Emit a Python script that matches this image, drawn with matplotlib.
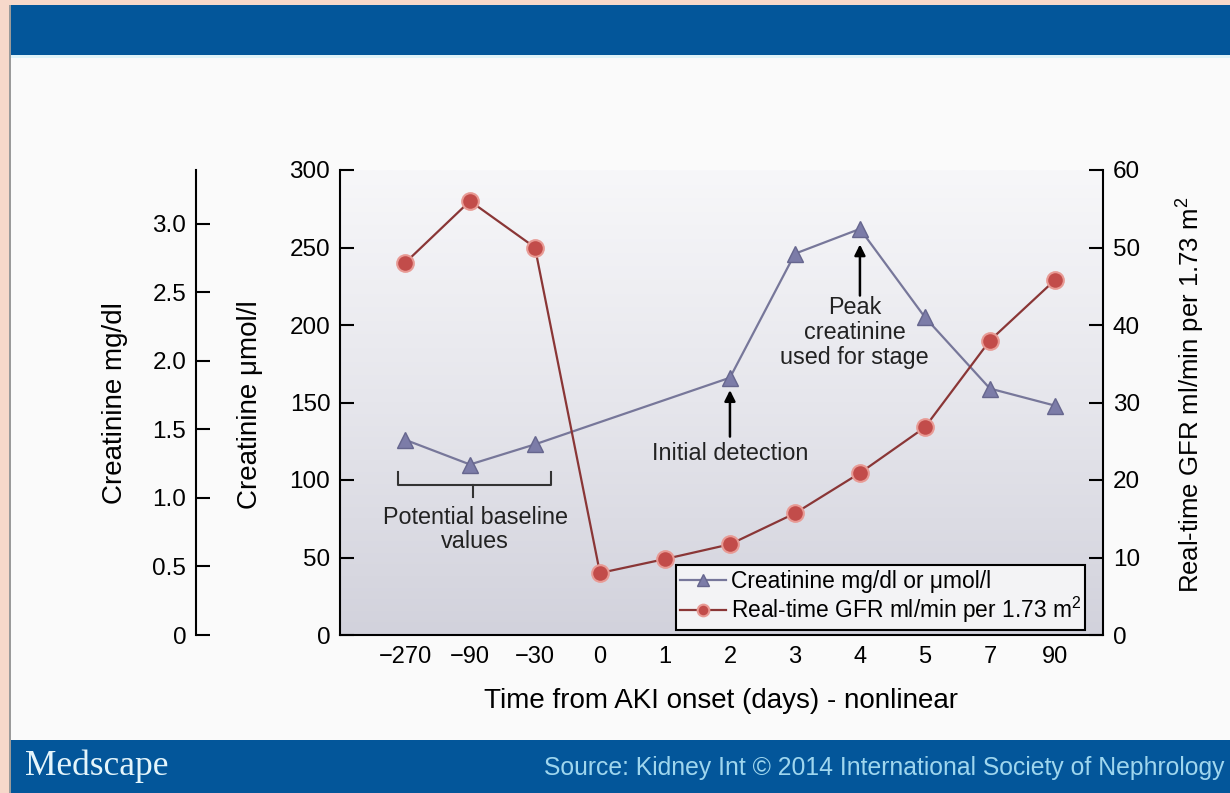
import numpy as np
import matplotlib.pyplot as plt
from matplotlib.colors import LinearSegmentedColormap
from matplotlib.patches import Rectangle

plt.rcParams["font.family"] = ["Liberation Sans", "DejaVu Sans"]
plt.rcParams["mathtext.fontset"] = "custom"
plt.rcParams["mathtext.rm"] = "Liberation Sans"

W, H = 1230, 793

# categories on the (nonlinear) time axis, days from AKI onset
DAYS = ["\u2212270", "\u221290", "\u221230", "0", "1", "2", "3", "4", "5", "7", "90"]
# creatinine (umol/l); no creatinine value at days 0 and 1
CREAT_IDX = [0, 1, 2, 5, 6, 7, 8, 9, 10]
CREAT_UMOL = [126, 110, 123, 166, 246, 262, 205, 159, 148]
# real-time GFR, ml/min per 1.73 m2
GFR = [48, 56, 50, 8, 9.8, 11.7, 15.7, 20.9, 26.8, 38, 45.8]

UMOL_PER_MGDL = 88.4
UMOL_TICKS = [0, 50, 100, 150, 200, 250, 300]
MGDL_TICKS = [0, 0.5, 1.0, 1.5, 2.0, 2.5, 3.0]
MGDL_LABELS = ["0", "0.5", "1.0", "1.5", "2.0", "2.5", "3.0"]
GFR_TICKS = [0, 10, 20, 30, 40, 50, 60]


def fx(px):
    return px / W


def fy(py):
    return 1 - py / H


fig = plt.figure(figsize=(W / 100, H / 100), dpi=100)
fig.patch.set_facecolor("#fafafa")

# page frame and Medscape banners
for x0, y0, x1, y1, c in [
    (0, 0, 9, 793, "#f6d8ca"),
    (0, 0, 1230, 5, "#f6d8ca"),
    (9, 5, 11, 793, "#9a9a9a"),
    (11, 5, 1230, 55, "#03569a"),
    (11, 55, 1230, 58, "#dff3f8"),
    (11, 740, 1230, 793, "#03569a"),
]:
    fig.add_artist(Rectangle((fx(x0), fy(y1)), fx(x1) - fx(x0), fy(y0) - fy(y1),
                             transform=fig.transFigure, color=c, lw=0, zorder=0))
fig.text(fx(25), fy(766), "Medscape", family=["Liberation Serif"], fontsize=25.5,
         color="#e4f5fb", va="center")
fig.text(fx(1225), fy(768), "Source: Kidney Int \u00a9 2014 International Society of Nephrology",
         ha="right", va="center", fontsize=17.8, color="#9fd6ee")

left, right, top, bottom = 340, 1103, 170, 635
ax = fig.add_axes([fx(left), fy(bottom), fx(right) - fx(left), fy(top) - fy(bottom)])

grad = np.linspace(0, 1, 256).reshape(-1, 1)
cmap = LinearSegmentedColormap.from_list("bg", ["#d2d2dc", "#e6e6ec", "#f7f7f9"])
ax.imshow(grad, origin="lower", extent=(0, 1, 0, 1), transform=ax.transAxes,
          aspect="auto", cmap=cmap, zorder=0)
ax.set_xlim(-1, 10.74)
ax.set_ylim(0, 300)

for s in ("top", "right"):
    ax.spines[s].set_visible(False)
for s in ("left", "bottom"):
    ax.spines[s].set_linewidth(1.5)

l1, = ax.plot(CREAT_IDX, CREAT_UMOL, color="#77779a", lw=1.6, marker="^", ms=12,
              mfc="#7c7ca8", mec="#66668e", mew=1.0, zorder=3)

ax.set_xticks(range(len(DAYS)))
ax.set_xticklabels(DAYS)
ax.tick_params(axis="x", length=0, labelsize=17, pad=8)
ax.set_yticks(UMOL_TICKS)
ax.tick_params(axis="y", direction="in", length=10, width=1.5, labelsize=17.5, pad=7)
ax.set_xlabel("Time from AKI onset (days) - nonlinear", fontsize=20, labelpad=14)

ax2 = ax.twinx()
ax2.set_ylim(0, 60)
for s in ("top", "left", "bottom"):
    ax2.spines[s].set_visible(False)
ax2.spines["right"].set_linewidth(1.5)
l2, = ax2.plot(range(len(GFR)), GFR, color="#8a3636", lw=1.6, marker="o", ms=12,
               mfc="#c24c4a", mec="#e89a94", mew=1.5, zorder=3)
ax2.set_yticks(GFR_TICKS)
ax2.tick_params(axis="y", direction="in", length=10, width=1.5, labelsize=17.5, pad=7)

# extra mg/dl scale on the far left
axm = fig.add_axes([fx(196), fy(bottom), 0.01, fy(top) - fy(bottom)])
axm.patch.set_visible(False)
for s in ("top", "right", "bottom"):
    axm.spines[s].set_visible(False)
axm.spines["left"].set_linewidth(1.5)
axm.set_xticks([])
axm.set_ylim(0, 300 / UMOL_PER_MGDL)
axm.set_yticks(MGDL_TICKS)
axm.set_yticklabels(MGDL_LABELS)
axm.tick_params(axis="y", direction="in", length=10, width=1.5, labelsize=17.5, pad=7)

fig.text(fx(115), fy(403), "Creatinine mg/dl", rotation=90, ha="center", va="center", fontsize=20)
fig.text(fx(250), fy(405), "Creatinine \u03bcmol/l", rotation=90, ha="center", va="center", fontsize=20)
fig.text(fx(1190), fy(395), "Real-time GFR ml/min per 1.73 m$^{2}$", rotation=90,
         ha="center", va="center", fontsize=18.5)

# annotations
ax.plot([-0.1, -0.1, 2.25, 2.25], [105, 97, 97, 105], color="#333333", lw=1.5, zorder=4)
ax.plot([1.05, 1.05], [97, 89], color="#333333", lw=1.5, zorder=4)
ax.text(1.08, 68, "Potential baseline\nvalues", ha="center", va="center", fontsize=16.8,
        linespacing=1.1, color="#222222", zorder=4)

arrow = dict(arrowstyle="-|>", color="black", lw=1.8, mutation_scale=16, shrinkA=0, shrinkB=0)
ax.annotate("", xy=(5, 158), xytext=(5, 128), arrowprops=arrow, zorder=4)
ax.text(5, 117, "Initial detection", ha="center", va="center", fontsize=16.8, color="#222222", zorder=4)
ax.annotate("", xy=(7, 252), xytext=(7, 219), arrowprops=arrow, zorder=4)
ax.text(6.92, 195, "Peak\ncreatinine\nused for stage", ha="center", va="center", fontsize=16.8,
        linespacing=1.1, color="#222222", zorder=4)

leg = ax2.legend([l1, l2], ["Creatinine mg/dl or \u03bcmol/l", "Real-time GFR ml/min per 1.73 m$^{2}$"],
                 loc="lower right", bbox_to_anchor=(0.977, 0.011), borderaxespad=0,
                 fancybox=False, edgecolor="black", facecolor="#f3f3f5", framealpha=1,
                 fontsize=16.4, markerscale=0.7, handlelength=2.0, handletextpad=0.2,
                 borderpad=0.2, labelspacing=0.1)
leg.get_frame().set_linewidth(1.5)

fig.savefig("out.png", dpi=100, facecolor=fig.get_facecolor())
